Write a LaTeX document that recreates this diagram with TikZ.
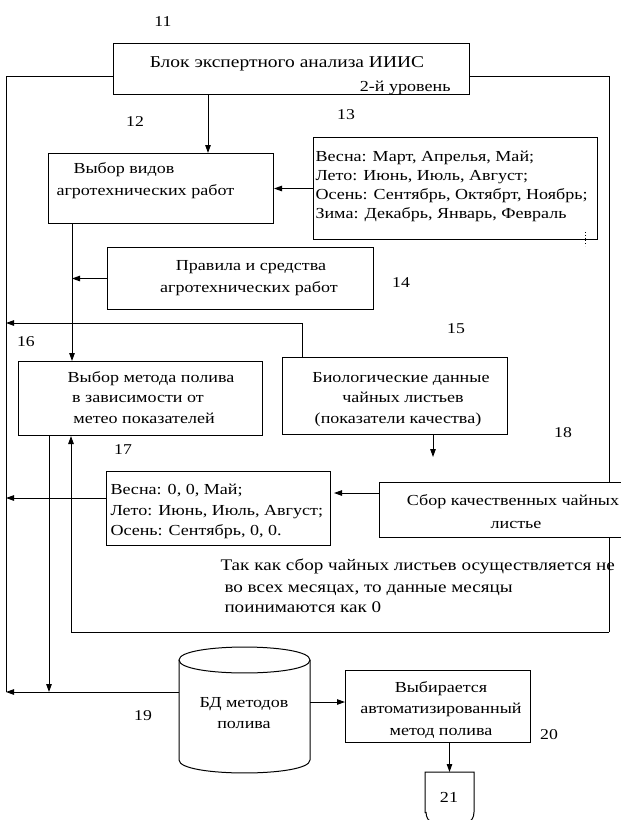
\documentclass[tikz,border=0pt]{standalone}
\usepackage{fontspec}
\setmainfont{Liberation Serif}[FakeStretch=1.18]
\usetikzlibrary{arrows.meta,calc}
\begin{document}
\begin{tikzpicture}[x=1pt,y=-1pt,
  line width=1pt,
  box/.style={draw, fill=white, inner sep=0pt, anchor=north west},
  ghost/.style={inner sep=0pt, anchor=north west},
  txt/.style={inner sep=0pt, font=\fontsize{15.3}{19}\selectfont},
  bigtxt/.style={inner sep=0pt, font=\fontsize{16.5}{20}\selectfont},
  notetxt/.style={inner sep=0pt, font=\fontsize{16.2}{20}\selectfont},
  num/.style={inner sep=0pt, font=\fontsize{15}{18}\selectfont},
  arr/.style={-{Triangle[length=8pt,width=5.5pt]}}
]
\useasboundingbox (0,0) rectangle (621,820);
\clip (0,0) rectangle (621,820);

% ---------- boxes ----------
\node[box, minimum width=356, minimum height=51] (b11) at (113,43) {};
\node[box, minimum width=225, minimum height=70] (b12) at (48,153) {};
\node[box, minimum width=284, minimum height=102] (b13) at (313,137) {};
\node[box, minimum width=266, minimum height=62] (b14) at (107,247) {};
\node[box, minimum width=225, minimum height=77] (b15) at (282,357) {};
\node[box, minimum width=244, minimum height=74] (b16) at (18,361) {};
\node[box, minimum width=224, minimum height=74] (b17) at (106,471) {};
\node[ghost, minimum width=130, minimum height=126] (b19) at (179,647) {};
\node[box, minimum width=185, minimum height=72] (b20) at (345,670) {};
\node[ghost, minimum width=48, minimum height=48] (b21) at (425,772) {};

% ---------- named corner points ----------
\coordinate (oTL) at (6,76);
\coordinate (oTR) at (609,76);
\coordinate (oBR) at (609,632);
\coordinate (oBM) at (71,632);
\coordinate (oBL) at (6,692);
\coordinate (b11l) at (113,76);
\coordinate (b11r) at (469,76);
\coordinate (v73) at ($(b12.south west)+(24,0)$);
\coordinate (c15) at (302,323);
\coordinate (c15end) at (433,457);
\coordinate (dotA) at (585,232);
\coordinate (dotB) at (585,246);

% ---------- outer loop ----------
\draw (b11l) -- (oTL) -- (oBL);
\draw (b11r) -- (oTR) -- (oBR);
\draw[arr] (oBR) -- (oBM) -- (oBM |- b16.south);

% box 18 drawn over the right line
\node[box, minimum width=260, minimum height=55] (b18) at (379,482) {};

% ---------- connectors ----------
\draw[arr] ($(b11.south west)+(95,0)$) -- ($(b12.north west)+(160,0)$);
\draw[arr] (b13.west) -- (b13.west -| b12.east);
\draw[arr] (v73) -- (v73 |- b16.north);
\draw[arr] (b14.west) -- (b14.west -| v73);
\draw[arr] ($(b15.north west)+(20,0)$) |- (oTL |- c15);
\draw[arr] ($(b15.south west)+(151,0)$) -- (c15end);
\draw[arr] ($(b17.north west)+(0,27)$) -- ($(oTL |- b17.north west)+(0,27)$);
\draw[arr] ($(b18.north west)+(0,11)$) -- ($(b17.north east)+(3,22)$);
\draw[arr] ($(b16.south west)+(31,0)$) -- ($(b16.south west |- oBL)+(31,0)$);
\draw[arr] ($(b19.north west)+(0,45)$) -- (oBL);
\draw[arr] ($(b19.north east)+(0,55)$) -- ($(b20.north west)+(0,32)$);
\draw[arr] (b20.south -| b21.north) -- (b21.north);
\draw[dotted, line width=0.8pt] (dotA) -- (dotB);

% ---------- cylinder (19) ----------
\draw ($(b19.north west)+(0,13)$) -- ($(b19.north west)+(0,113)$)
   .. controls ($(b19.north west)+(0,130.3)$) and ($(b19.north east)+(0,130.3)$) .. ($(b19.north east)+(0,113)$)
   -- ($(b19.north east)+(0,13)$);
\draw ($(b19.north west)+(0,13)$)
   .. controls ($(b19.north west)+(0,-4.3)$) and ($(b19.north east)+(0,-4.3)$) .. ($(b19.north east)+(0,13)$)
   .. controls ($(b19.north east)+(0,30.3)$) and ($(b19.north west)+(0,30.3)$) .. cycle;

% ---------- document shape (21) ----------
\draw (b21.south west) ++(0,-8) -- (b21.north west) -- (b21.north east) -- ++(0,40)
   .. controls ++(0,6) and ++(4,0) .. ++(-7,10) -- ++(-34,0)
   .. controls ++(-4,0) and ++(0,6) .. ++(-7,-10);

% ---------- texts ----------
\node[bigtxt, anchor=base] (t11a) at (287,67) {Блок экспертного анализа ИИИС};
\node[txt, anchor=base east] (t11b) at (451,91) {2-й уровень};

\node[txt, anchor=base west] (t12a) at (73,173) {Выбор видов};
\node[txt, anchor=base west] (t12b) at (56,195) {агротехнических работ};

\node[txt, anchor=base west] (t13a) at (315,161) {Весна: Март, Апрелья, Май;};
\node[txt, anchor=base west] (t13b) at (315,180) {Лето: Июнь, Июль, Август;};
\node[txt, anchor=base west] (t13c) at (315,199) {Осень: Сентябрь, Октябрт, Ноябрь;};
\node[txt, anchor=base west] (t13d) at (315,218) {Зима: Декабрь, Январь, Февраль};

\node[txt, anchor=base] (t14a) at (251,270) {Правила и средства};
\node[txt, anchor=base] (t14b) at (249,292) {агротехнических работ};

\node[txt, anchor=base] (t16a) at (151,382) {Выбор метода полива};
\node[txt, anchor=base] (t16b) at (138,402) {в зависимости от};
\node[txt, anchor=base] (t16c) at (144,423) {метео показателей};

\node[txt, anchor=base] (t15a) at (401,382) {Биологические данные};
\node[txt, anchor=base] (t15b) at (403,402) {чайных листьев};
\node[txt, anchor=base] (t15c) at (398,423) {(показатели качества)};

\node[txt, anchor=base west] (t17a) at (110,494) {Весна: 0, 0, Май;};
\node[txt, anchor=base west] (t17b) at (110,515) {Лето: Июнь, Июль, Август;};
\node[txt, anchor=base west] (t17c) at (110,535) {Осень: Сентябрь, 0, 0.};

\node[txt, anchor=base] (t18a) at (513,505) {Сбор качественных чайных};
\node[txt, anchor=base] (t18b) at (516,528) {листье};

\node[notetxt, anchor=base west] (note1) at (220,570) {Так как сбор чайных листьев осуществляется не};
\node[notetxt, anchor=base west] (note2) at (224,592) {во всех месяцах, то данные месяцы};
\node[notetxt, anchor=base west] (note3) at (224,612) {поинимаются как 0};

\node[txt, anchor=base] (t19a) at (244,707) {БД методов};
\node[txt, anchor=base] (t19b) at (244,728) {полива};

\node[txt, anchor=base] (t20a) at (441,692) {Выбирается};
\node[txt, anchor=base] (t20b) at (441,713) {автоматизированный};
\node[txt, anchor=base] (t20c) at (441,735) {метод полива};

\node[txt] (t21) at (449,797) {21};

% ---------- numbers ----------
\node[num] (n11) at (163,22) {11};
\node[num] (n12) at (135,122) {12};
\node[num] (n13) at (346,115) {13};
\node[num] (n14) at (401,283) {14};
\node[num] (n15) at (456,329) {15};
\node[num] (n16) at (26,342) {16};
\node[num] (n17) at (123,450) {17};
\node[num] (n18) at (563,433) {18};
\node[num] (n19) at (143,716) {19};
\node[num] (n20) at (549,735) {20};
\end{tikzpicture}
\end{document}
